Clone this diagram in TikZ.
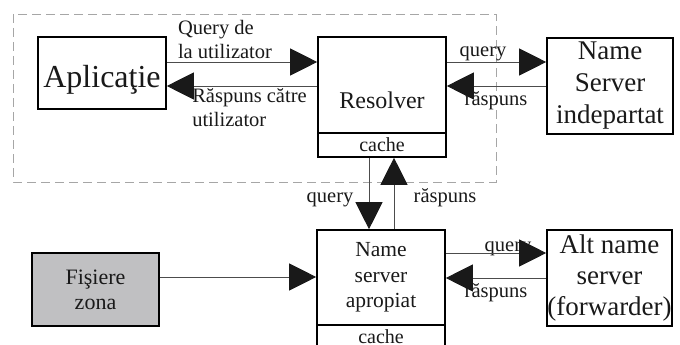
\documentclass[tikz,border=0pt]{standalone}
\usepackage{fontspec}
\setmainfont{Liberation Serif}
\usepackage{xcolor}
\usetikzlibrary{arrows.meta}
\definecolor{zonegray}{RGB}{192,192,194}

\begin{document}
\begin{tikzpicture}[
x=1pt, y=-1pt,
% Style for the boxes
box style/.style={
draw=black,
line width=1.6pt,
inner sep=0pt,
align=center,
text=black!90
},
% Style for the connectors
link style/.style={
draw=black!70,
line width=0.9pt,
-{Triangle[length=27pt,width=27pt,color=black!90]}
},
% Style for the connector labels
lbl style/.style={
inner sep=0pt,
anchor=base,
text=black!90,
font=\fontsize{20.5}{24}\selectfont
}
]
\clip (0,0) rectangle (680,345);

% Dashed frame round the client side
\draw[black!35, line width=0.9pt, dash pattern=on 9pt off 5pt] (13,14) rectangle (496,182);

% Boxes
\node[box style, minimum width=128pt, minimum height=72pt, text height=30pt, text depth=0pt,
  font=\fontsize{32}{38}\selectfont] (app) at (102,73) {Aplicaţie};
\node[box style, minimum width=128pt, minimum height=96pt, text height=46pt, text depth=0pt,
  font=\fontsize{24}{28}\selectfont] (res) at (382,85) {Resolver};
\node[box style, minimum width=128pt, minimum height=24pt,
  font=\fontsize{20}{24}\selectfont] (rescache) at (382,145) {cache};
\node[box style, minimum width=126pt, minimum height=96pt,
  font=\fontsize{27}{32}\selectfont] (far) at (610,86) {Name\\Server\\indepartat};
\node[box style, minimum width=128pt, minimum height=95pt,
  font=\fontsize{21.5}{25.5}\selectfont] (near) at (381,277.5) {Name\\server\\apropiat};
\node[box style, minimum width=128pt, minimum height=24pt,
  font=\fontsize{20}{24}\selectfont] (nearcache) at (381,337) {cache};
\node[box style, minimum width=125pt, minimum height=96pt,
  font=\fontsize{27}{31}\selectfont] (alt) at (609.5,278) {Alt name\\server\\(forwarder)};
\node[box style, fill=zonegray, minimum width=127pt, minimum height=73pt,
  font=\fontsize{22}{25}\selectfont] (zone) at (95.5,289.5) {Fişiere\\zona};

% Connector labels
\node[lbl style, anchor=center, align=left] (qapp) at (225,39) {Query de\\la utilizator};
\node[lbl style, anchor=center, align=left] (rapp) at (249.5,108) {Răspuns către\\utilizator};
\node[lbl style] (qfar) at (483,57) {query};
\node[lbl style] (rfar) at (496,105) {răspuns};
\node[lbl style] (qnear) at (330,202) {query};
\node[lbl style] (rnear) at (445,202) {răspuns};
\node[lbl style] (qalt) at (508,251) {query};
\node[lbl style] (ralt) at (496,297) {răspuns};

% Connectors
\draw[link style] ([yshift=11pt]app.east) -- ([yshift=23pt]res.west);
\draw[link style] ([yshift=-1pt]res.west) -- ([yshift=-13pt]app.east);
\draw[link style] ([yshift=23pt]res.east) -- ([yshift=24pt]far.west);
\draw[link style] (far.west) -- ([yshift=-1pt]res.east);
\draw[link style] ([xshift=-13pt]rescache.south) -- ([xshift=-12pt]near.north);
\draw[link style] ([xshift=13pt]near.north) -- ([xshift=12pt]rescache.south);
\draw[link style] ([yshift=24.5pt]near.east) -- ([yshift=25pt]alt.west);
\draw[link style] (alt.west) -- ([yshift=-0.5pt]near.east);
\draw[link style] ([yshift=12.5pt]zone.east) -- ([yshift=0.5pt]near.west);

\end{tikzpicture}
\end{document}
